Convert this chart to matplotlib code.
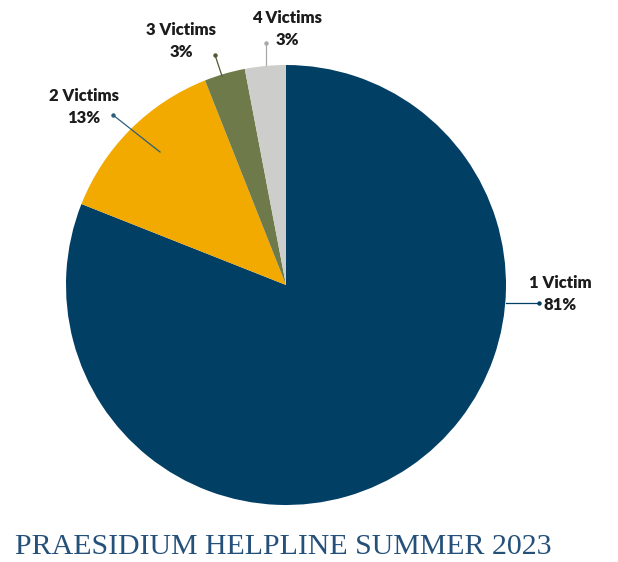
import matplotlib
matplotlib.use("Agg")
import matplotlib.pyplot as plt

categories = ["1 Victim", "2 Victims", "3 Victims", "4 Victims"]
values = [81, 13, 3, 3]
pct_labels = ["81%", "13%", "3%", "3%"]
colors = ["#023f65", "#f2a900", "#6f7a4b", "#cdcecb"]
line_colors = ["#023f65", "#2e5f7d", "#4f5a33", "#a8aaa6"]
title = "PRAESIDIUM HELPLINE SUMMER 2023"

W, H = 618, 562
fig = plt.figure(figsize=(W / 100, H / 100), dpi=100)
ax = fig.add_axes([0, 0, 1, 1])

cx, cy, r = 286, H - 285, 220
ax.pie(values, colors=colors, startangle=90, counterclock=False,
       center=(cx, cy), radius=r, frame=True,
       wedgeprops=dict(linewidth=0))
ax.set_xlim(0, W)
ax.set_ylim(0, H)
ax.set_aspect("equal")
ax.axis("off")

# leader lines: (start px, end px) in image coords, text center (x,y)
leaders = [
    ((506, 303), (539, 303), (560, 283)),
    ((160, 152), (113, 115), (84, 96)),
    ((222, 76), (215, 55), (181, 30)),
    ((266, 65), (266, 43), (287, 18)),
]
for i, ((x0, y0), (x1, y1), (tx, ty)) in enumerate(leaders):
    ax.plot([x0, x1], [H - y0, H - y1], color=line_colors[i], lw=0.9)
    ax.plot([x1], [H - y1], "o", color=line_colors[i], ms=2.2)
    ax.text(tx, H - ty, categories[i], ha="center", va="center",
            fontsize=12, fontweight="heavy", family="Lato", color="#1c1c1c")
    ax.text(tx, H - ty - 22, pct_labels[i], ha="center", va="center",
            fontsize=12, fontweight="heavy", family="Lato", color="#1c1c1c")

ax.text(283, H - 547, title, ha="center", va="center", fontsize=21.5,
        family="Liberation Serif", color="#24507a")

fig.savefig("out.png", dpi=100)
